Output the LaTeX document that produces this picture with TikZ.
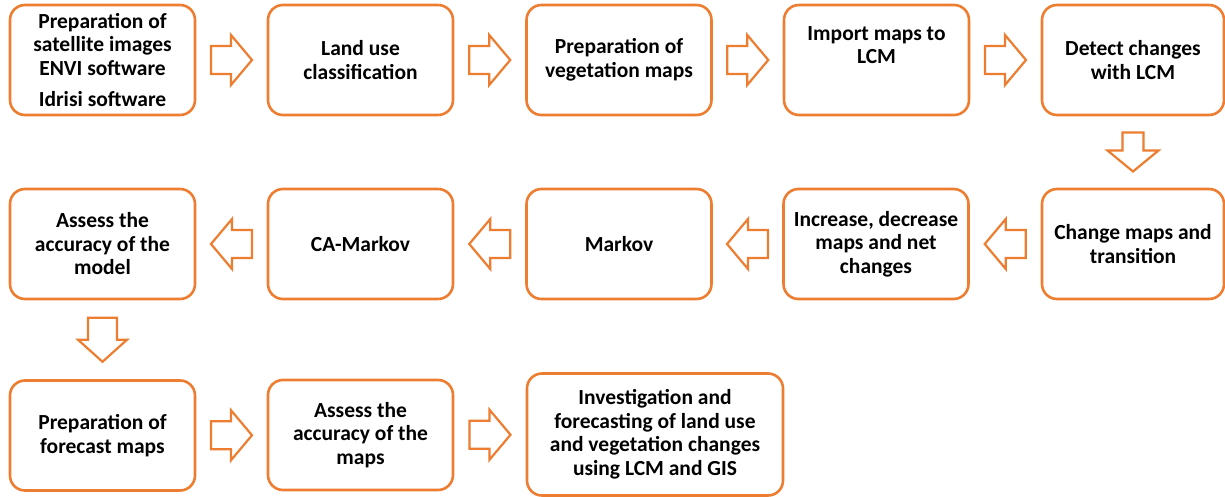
\documentclass[tikz,border=0pt]{standalone}
\usepackage{fontspec}
\setmainfont{Carlito}
\usetikzlibrary{calc}
\definecolor{orng}{HTML}{ED7D31}
\tikzset{
  boxfont/.style={font=\fontsize{21.5}{23.5}\selectfont\bfseries},
  box/.style={draw=orng, line width=2.6pt, rounded corners=15pt, fill=white,
    minimum width=185pt, minimum height=110pt, inner sep=2pt, align=center,
    text=black, boxfont},
  blkarr/.style={draw=orng, line width=2.2pt, fill=white, line join=miter}
}
% #1 centre coordinate, #2 angle, #3 length, #4 shaft width, #5 head width, #6 head length
\newcommand\blockarr[6]{%
  \begin{scope}[shift={(#1)}, rotate=#2]
    \draw[blkarr] (-#3/2,-#4/2) -- ({#3/2-#6},-#4/2) -- ({#3/2-#6},-#5/2) -- (#3/2,0)
      -- ({#3/2-#6},#5/2) -- ({#3/2-#6},#4/2) -- (-#3/2,#4/2) -- cycle;
  \end{scope}}
\begin{document}
\begin{tikzpicture}[x=1pt,y=-1pt]
\useasboundingbox (0,0) rectangle (1225,497);
% row 1
\node[box] (a1) at (102.5,60) {Preparation of\\satellite images\\ENVI software\\[8pt]Idrisi software};
\node[box] (a2) at (360.5,60) {Land use\\classification};
\node[box] (a3) at (619,60) {Preparation of\\vegetation maps};
\node[box] (a4) at (876.5,60) {};
\node[boxfont, align=center] (a4t) at (876.5,45) {Import maps to\\LCM};
\node[box, minimum width=182pt] (a5) at (1133,60) {Detect changes\\with LCM};
% row 2
\node[box] (b1) at (102.5,244) {Assess the\\accuracy of the\\model};
\node[box] (b2) at (360.5,244) {CA-Markov};
\node[box] (b3) at (619,244) {Markov};
\node[box] (b4) at (876,244) {Increase, decrease\\maps and net\\changes};
\node[box, minimum width=182pt] (b5) at (1133,244) {Change maps and\\transition};
% row 3
\node[box] (c1) at (102.5,435.5) {Preparation of\\forecast maps};
\node[box] (c2) at (360.5,435) {Assess the\\accuracy of the\\maps};
\node[box, minimum width=256pt, minimum height=122pt] (c3) at (655,434.5) {Investigation and\\forecasting of land use\\and vegetation changes\\using LCM and GIS};
% arrow centres
\coordinate (r1) at ($(a1.east)!0.5!(a2.west)$);
\coordinate (r2) at ($(a2.east)!0.5!(a3.west)$);
\coordinate (r3) at ($(a3.east)!0.5!(a4.west)$);
\coordinate (r4) at ($(a4.east)!0.5!(a5.west)$);
\coordinate (d1) at ($(a5.south)!0.5!(b5.north)$);
\coordinate (l4) at ($(b5.west)!0.5!(b4.east)$);
\coordinate (l3) at ($(b4.west)!0.5!(b3.east)$);
\coordinate (l2) at ($(b3.west)!0.5!(b2.east)$);
\coordinate (l1) at ($(b2.west)!0.5!(b1.east)$);
\coordinate (d2) at ($(b1.south)!0.5!(c1.north)$);
\coordinate (s1) at ($(c1.east)!0.5!(c2.west)$);
\coordinate (s2) at ($(c2.east)!0.5!(c3.west)$);
% arrows
\blockarr{r1}{0}{41}{28}{50}{21}
\blockarr{r2}{0}{41}{28}{50}{21}
\blockarr{r3}{0}{41}{28}{50}{21}
\blockarr{r4}{0}{41}{28}{50}{21}
\blockarr{d1}{-90}{39}{21}{51}{21}
\blockarr{l4}{180}{41}{28}{50}{21}
\blockarr{l3}{180}{41}{28}{50}{21}
\blockarr{l2}{180}{41}{28}{50}{21}
\blockarr{l1}{180}{41}{28}{50}{21}
\blockarr{d2}{-90}{44}{29}{49}{22}
\blockarr{s1}{0}{41}{28}{50}{21}
\blockarr{s2}{0}{41}{28}{50}{21}
\end{tikzpicture}
\end{document}
